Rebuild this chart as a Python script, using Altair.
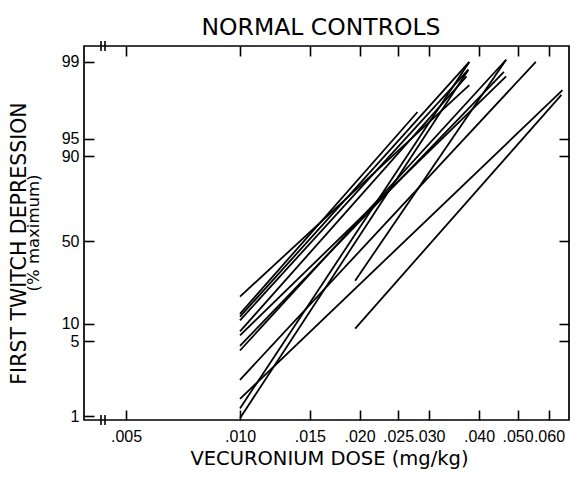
import altair as alt
import pandas as pd
from statistics import NormalDist

# ---- data (one straight log-probit line per subject) ----
dose_start = [0.010, 0.010, 0.010, 0.010, 0.010, 0.010, 0.010, 0.010, 0.010, 0.010, 0.010, 0.010, 0.0195, 0.0195]
pct_start  = [19.4, 12.9, 12.0, 10.9, 7.45, 6.4, 4.6, 4.2, 2.3, 1.5, 1.2, 0.95, 26.9, 8.3]
dose_end   = [0.0378, 0.0280, 0.0378, 0.0376, 0.0372, 0.0468, 0.0462, 0.0468, 0.0556, 0.0649, 0.0378, 0.0376, 0.0468, 0.0645]
pct_end    = [98.3, 97.0, 99.0, 98.8, 98.6, 98.6, 98.74, 99.05, 99.0, 98.1, 99.0, 98.8, 99.05, 97.9]

x_ticks = [0.005, 0.010, 0.015, 0.020, 0.025, 0.030, 0.040, 0.050, 0.060]
y_ticks = [1, 5, 10, 50, 90, 95, 99]
y_right_ticks = [5, 10, 50, 90, 95]

rows = []
for i, (d0, p0, d1, p1) in enumerate(zip(dose_start, pct_start, dose_end, pct_end)):
    rows.append({"subject": i + 1, "dose": d0, "pct": p0})
    rows.append({"subject": i + 1, "dose": d1, "pct": p1})
df = pd.DataFrame(rows)

nd = NormalDist()
def probit(p):
    return nd.inv_cdf(p / 100.0)

FONT = "DejaVu Sans"
LFONT = "Liberation Sans"
W, H = 485, 374

# hand-drawn axes of the original: piecewise scales
x_scale = alt.Scale(type="log", domain=[0.003873, 0.005, 0.010, 0.0674],
                    range=[0, 42, 156, W], nice=False)
y_dom_pct = [0.91, 1, 5, 10, 50, 90, 95, 99, 99.32]
y_rng = [H, 370, 295.4, 277.5, 195, 110.4, 92.5, 15.9, 0]
y_scale = alt.Scale(type="linear", domain=[probit(p) for p in y_dom_pct],
                    range=y_rng, nice=False, zero=False)

x_label_expr = "slice(format(datum.value, '.3f'), 1)"
y_label_expr = "format(cumulativeNormal(datum.value) * 100, '.0f')"

bottom_axis = alt.Axis(orient="bottom", values=x_ticks, labelExpr=x_label_expr,
                       offset=-10, tickSize=10, domain=False, grid=False,
                       labelFont=LFONT, labelFontSize=16, labelBaseline="alphabetic",
                       labelPadding=21, labelFlush=False, labelOverlap=False,
                       title="VECURONIUM DOSE (mg/kg)", titleFontSize=19.5,
                       titleFontWeight="normal", titleX=245, titleY=54,
                       titleAlign="center", titleBaseline="alphabetic")
top_axis = alt.Axis(orient="top", values=x_ticks, offset=-10, tickSize=10,
                    domain=False, grid=False, labels=False, title=None)
left_axis = alt.Axis(orient="left", values=[probit(p) for p in y_ticks],
                     labelExpr=y_label_expr, offset=-10, tickSize=10, domain=False,
                     grid=False, labelFont=LFONT, labelFontSize=16, labelPadding=5,
                     labelFlush=False, labelOverlap=False, labelBaseline="middle",
                     title="FIRST TWITCH DEPRESSION", titleFontSize=20.5,
                     titleFontWeight="normal", titleAngle=270, titleX=-75, titleY=197,
                     titleAlign="center", titleBaseline="middle")
right_axis = alt.Axis(orient="right", values=[probit(p) for p in y_right_ticks],
                      offset=-10, tickSize=10, domain=False, grid=False,
                      labels=False, title=None)

base = alt.Chart(df).transform_calculate(z="quantileNormal(datum.pct / 100)")

lines = base.mark_line(color="black", strokeWidth=1.8).encode(
    x=alt.X("dose:Q", scale=x_scale, axis=bottom_axis),
    y=alt.Y("z:Q", scale=y_scale, axis=left_axis),
    detail="subject:N",
)
mirror = base.mark_line(opacity=0).encode(
    x=alt.X("dose:Q", scale=x_scale, axis=top_axis),
    y=alt.Y("z:Q", scale=y_scale, axis=right_axis),
    detail="subject:N",
)

texts = pd.DataFrame({"title": ["NORMAL CONTROLS"], "sub": ["(% maximum)"]})
main_title = alt.Chart(texts).mark_text(font=FONT, fontSize=23.5, align="center",
                                        baseline="alphabetic", color="black").encode(
    text="title:N", x=alt.value(237), y=alt.value(-11))
subtitle = alt.Chart(texts).mark_text(font=FONT, fontSize=16.5, angle=270,
                                      align="center", baseline="middle",
                                      color="black").encode(
    text="sub:N", x=alt.value(-50), y=alt.value(187))

brk = alt.Chart(texts).mark_rule(color="black", strokeWidth=1.6)
breaks = [
    brk.encode(x=alt.value(17), y=alt.value(-5), y2=alt.value(5)),
    brk.encode(x=alt.value(21), y=alt.value(-5), y2=alt.value(5)),
    brk.encode(x=alt.value(17), y=alt.value(H - 5), y2=alt.value(H + 5)),
    brk.encode(x=alt.value(21), y=alt.value(H - 5), y2=alt.value(H + 5)),
]

chart = alt.layer(lines, mirror, main_title, subtitle, *breaks).resolve_axis(
    x="independent", y="independent"
).properties(
    width=W, height=H,
    autosize=alt.AutoSizeParams(type="none"),
    padding={"left": 76, "top": 38, "right": 1, "bottom": 49},
).configure_view(
    stroke="black", strokeWidth=1.7
).configure_axis(
    labelFont=FONT, titleFont=FONT, labelColor="black", titleColor="black",
    tickColor="black", tickWidth=1.6
)

chart.save("out.html", embed_options={"renderer": "svg", "actions": False})
